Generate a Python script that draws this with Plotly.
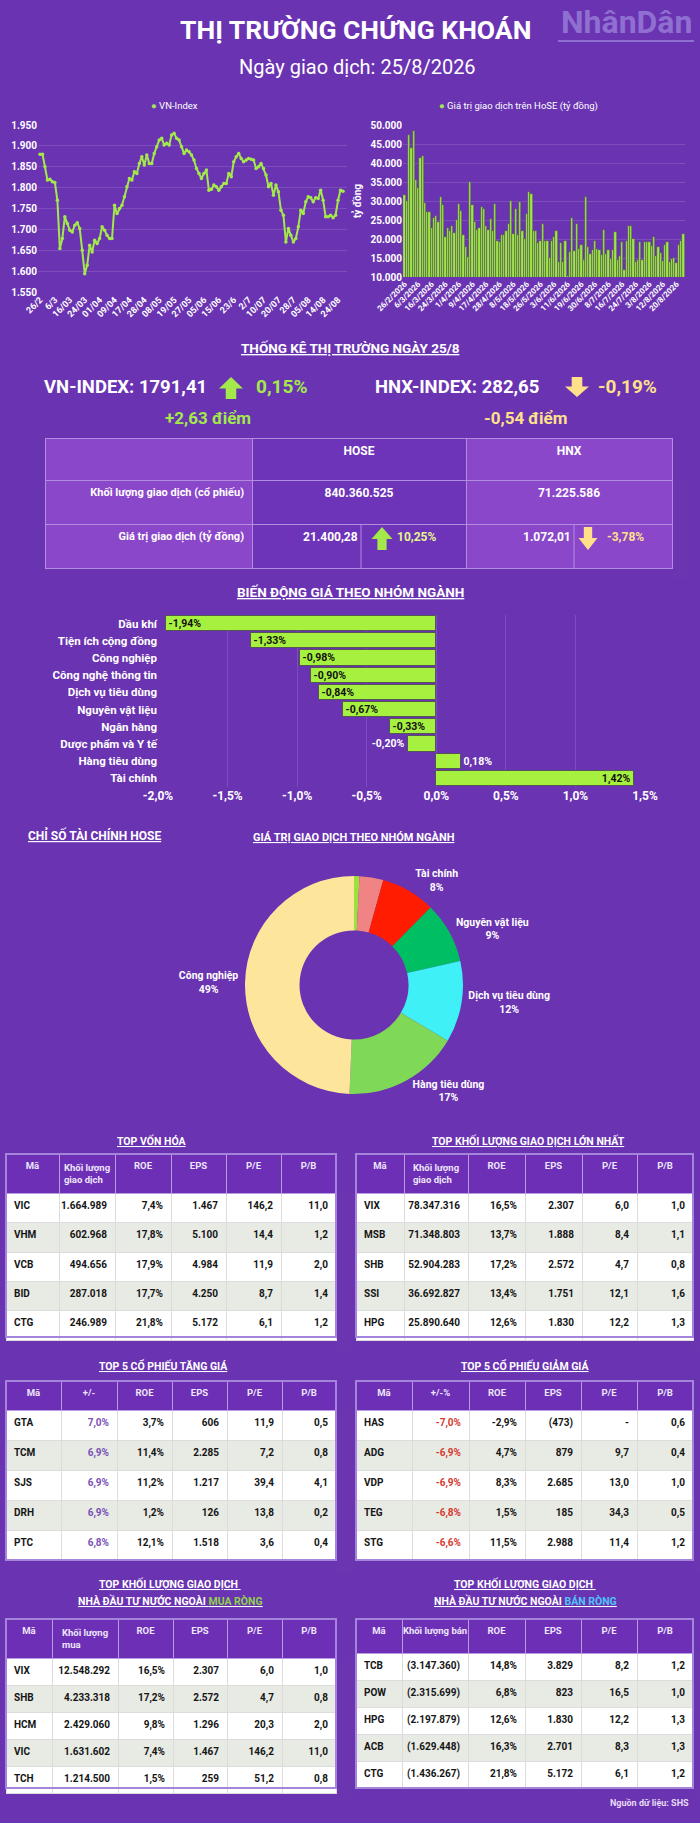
import plotly.graph_objects as go

W, H = 700, 1823
FONT = "Roboto, sans-serif"
BG = "#6a33b2"
GREEN = "#a3e94b"
LIME = "#a6f03f"
YELLOW = "#ffe08a"
NB = "\u00a0"

# --- data: VN-Index line ---
vn_index = [1880, 1880, 1850, 1818, 1820, 1814, 1812, 1770, 1654, 1678,
            1730, 1714, 1698, 1694, 1710, 1716, 1702, 1650, 1594, 1614,
            1662, 1646, 1674, 1666, 1678, 1706, 1698, 1686, 1678, 1678,
            1758, 1738, 1750, 1758, 1778, 1802, 1822, 1818, 1838, 1834,
            1858, 1874, 1854, 1878, 1858, 1858, 1882, 1898, 1914, 1918,
            1902, 1906, 1902, 1926, 1930, 1918, 1914, 1898, 1882, 1890,
            1886, 1878, 1866, 1846, 1834, 1822, 1834, 1842, 1794, 1796,
            1806, 1802, 1794, 1802, 1810, 1810, 1834, 1826, 1862, 1874,
            1882, 1870, 1862, 1866, 1870, 1868, 1866, 1846, 1850, 1858,
            1846, 1830, 1802, 1810, 1782, 1806, 1790, 1746, 1734, 1670,
            1702, 1686, 1670, 1678, 1706, 1746, 1738, 1766, 1778, 1776,
            1766, 1776, 1774, 1794, 1770, 1730, 1730, 1734, 1728, 1734,
            1770, 1794, 1791.41]
vn_ticks = ["26/2", "6/3", "16/03", "24/03", "01/04", "09/04", "17/04", "28/04",
            "08/05", "19/05", "27/05", "05/06", "15/06", "23/6", "2/7", "10/07",
            "20/07", "28/7", "05/08", "14/08", "24/08"]
vn_yticks = [1550, 1600, 1650, 1700, 1750, 1800, 1850, 1900, 1950]

# --- data: HoSE trading value ---
hose_value = [31700, 30000, 47500, 44000, 48300, 35500, 33300, 41200, 41800, 29500,
              27200, 27200, 23000, 25500, 26000, 24500, 31000, 29000, 20500, 23000,
              22000, 23500, 21500, 25000, 29200, 27500, 21000, 18000, 15200, 35000,
              29000, 24500, 22500, 23000, 28300, 28000, 23500, 22300, 25200, 22000,
              29300, 19500, 19300, 21000, 21000, 22000, 24000, 30000, 21200, 28000,
              21000, 29800, 22200, 20000, 26500, 32500, 31800, 22000, 22000, 19000,
              19500, 24000, 19500, 19500, 15000, 19500, 20500, 22000, 14000, 19000,
              14000, 19500, 10300, 16500, 25500, 16800, 24000, 17500, 18500, 14500,
              31000, 18000, 16000, 17000, 19500, 17500, 17200, 15800, 22500, 16000,
              17200, 14700, 17000, 21800, 14500, 15500, 19200, 11800, 19500, 23300,
              23400, 20000, 14000, 14500, 19200, 14500, 19200, 19200, 19200, 18200,
              20500, 15500, 17800, 16200, 14200, 18500, 19300, 14000, 14800, 15000,
              13600, 18300, 19500, 21400.28]
hose_ticks = ["26/2/2026", "6/3/2026", "16/3/2026", "24/3/2026", "1/4/2026", "9/4/2026",
              "17/4/2026", "28/4/2026", "8/5/2026", "18/5/2026", "26/5/2026", "3/6/2026",
              "11/6/2026", "19/6/2026", "30/6/2026", "8/7/2026", "16/7/2026", "24/7/2026",
              "3/8/2026", "12/8/2026", "20/8/2026"]
hose_yticks = [10000, 15000, 20000, 25000, 30000, 35000, 40000, 45000, 50000]

# --- data: sector price change ---
sectors = ["Dầu khí", "Tiện ích cộng đồng", "Công nghiệp", "Công nghệ thông tin",
           "Dịch vụ tiêu dùng", "Nguyên vật liệu", "Ngân hàng", "Dược phẩm và Y tế",
           "Hàng tiêu dùng", "Tài chính"]
sector_change = [-1.94, -1.33, -0.98, -0.90, -0.84, -0.67, -0.33, -0.20, 0.18, 1.42]
pct_ticks = [-2.0, -1.5, -1.0, -0.5, 0.0, 0.5, 1.0, 1.5]

# --- data: trading value by sector (donut) ---
pie_labels = ["Dầu khí", "Tiện ích cộng đồng", "Tài chính", "Nguyên vật liệu",
              "Dịch vụ tiêu dùng", "Hàng tiêu dùng", "Công nghiệp"]
pie_values = [0.8, 3.5, 8, 9, 12, 17, 49]
pie_colors = ["#9be33c", "#f08383", "#ff1c00", "#00bf62", "#3ff0f7", "#7fd957", "#fde69b"]

# --- data: market stats ---
stats_header = ["", "HOSE", "HNX"]
stats_labels = ["Khối lượng giao dịch (cổ phiếu)", "Giá trị giao dịch (tỷ đồng)"]
stats_volume = ["840.360.525", "71.225.586"]
stats_value = ["21.400,28", "1.072,01"]
stats_value_chg = ["10,25%", "-3,78%"]

# --- data: tables ---
head_cap = ["Mã", "Khối lượng<br>giao dịch", "ROE", "EPS", "P/E", "P/B"]
rows_cap = [["VIC", "1.664.989", "7,4%", "1.467", "146,2", "11,0"],
            ["VHM", "602.968", "17,8%", "5.100", "14,4", "1,2"],
            ["VCB", "494.656", "17,9%", "4.984", "11,9", "2,0"],
            ["BID", "287.018", "17,7%", "4.250", "8,7", "1,4"],
            ["CTG", "246.989", "21,8%", "5.172", "6,1", "1,2"]]
rows_vol = [["VIX", "78.347.316", "16,5%", "2.307", "6,0", "1,0"],
            ["MSB", "71.348.803", "13,7%", "1.888", "8,4", "1,1"],
            ["SHB", "52.904.283", "17,2%", "2.572", "4,7", "0,8"],
            ["SSI", "36.692.827", "13,4%", "1.751", "12,1", "1,6"],
            ["HPG", "25.890.640", "12,6%", "1.830", "12,2", "1,3"]]
head_up = ["Mã", "+/-", "ROE", "EPS", "P/E", "P/B"]
rows_up = [["GTA", "7,0%", "3,7%", "606", "11,9", "0,5"],
           ["TCM", "6,9%", "11,4%", "2.285", "7,2", "0,8"],
           ["SJS", "6,9%", "11,2%", "1.217", "39,4", "4,1"],
           ["DRH", "6,9%", "1,2%", "126", "13,8", "0,2"],
           ["PTC", "6,8%", "12,1%", "1.518", "3,6", "0,4"]]
head_down = ["Mã", "+/-%", "ROE", "EPS", "P/E", "P/B"]
rows_down = [["HAS", "-7,0%", "-2,9%", "(473)", "-", "0,6"],
             ["ADG", "-6,9%", "4,7%", "879", "9,7", "0,4"],
             ["VDP", "-6,9%", "8,3%", "2.685", "13,0", "1,0"],
             ["TEG", "-6,8%", "1,5%", "185", "34,3", "0,5"],
             ["STG", "-6,6%", "11,5%", "2.988", "11,4", "1,2"]]
head_buy = ["Mã", "Khối lượng<br>mua", "ROE", "EPS", "P/E", "P/B"]
rows_buy = [["VIX", "12.548.292", "16,5%", "2.307", "6,0", "1,0"],
            ["SHB", "4.233.318", "17,2%", "2.572", "4,7", "0,8"],
            ["HCM", "2.429.060", "9,8%", "1.296", "20,3", "2,0"],
            ["VIC", "1.631.602", "7,4%", "1.467", "146,2", "11,0"],
            ["TCH", "1.214.500", "1,5%", "259", "51,2", "0,8"]]
head_sell = ["Mã", "Khối lượng bán", "ROE", "EPS", "P/E", "P/B"]
rows_sell = [["TCB", "(3.147.360)", "14,8%", "3.829", "8,2", "1,2"],
             ["POW", "(2.315.699)", "6,8%", "823", "16,5", "1,0"],
             ["HPG", "(2.197.879)", "12,6%", "1.830", "12,2", "1,3"],
             ["ACB", "(1.629.448)", "16,3%", "2.701", "8,3", "1,3"],
             ["CTG", "(1.436.267)", "21,8%", "5.172", "6,1", "1,2"]]


def px(x):
    return x / W


def py(y):
    return 1 - y / H


def vn_num(v):
    return f"{v:,}".replace(",", ".")


def pct(v, nd=2):
    return f"{v:.{nd}f}%".replace(".", ",")


def nowrap(s):
    # keep words together inside table cells
    return s.replace(" ", NB)


fig = go.Figure()
annotations = []
shapes = []


def ann(text, x, y, size, color="white", xanchor="center", weight="bold"):
    annotations.append(dict(text=text, x=px(x), y=py(y), xref="paper", yref="paper",
                            xanchor=xanchor, yanchor="middle", showarrow=False,
                            font=dict(family=FONT, size=size, color=color, weight=weight)))


def u(text):
    return f"<span style='text-decoration:underline'>{text}</span>"


def arrow(cx, top, bot, w, up, color):
    hw, sw = w / 2, w * 0.22
    mid = top + (bot - top) * 0.52 if up else bot - (bot - top) * 0.52
    if up:
        pts = [(cx, top), (cx + hw, mid), (cx + sw, mid), (cx + sw, bot),
               (cx - sw, bot), (cx - sw, mid), (cx - hw, mid)]
    else:
        pts = [(cx, bot), (cx + hw, mid), (cx + sw, mid), (cx + sw, top),
               (cx - sw, top), (cx - sw, mid), (cx - hw, mid)]
    path = "M " + " L ".join(f"{px(x):.5f},{py(y):.5f}" for x, y in pts) + " Z"
    shapes.append(dict(type="path", xref="paper", yref="paper", path=path,
                       fillcolor=color, line=dict(width=0)))


# ---- header ----
ann("NhânDân", 626, 22, 32, color="#8f6fd0")
shapes.append(dict(type="line", xref="paper", yref="paper", x0=px(558), x1=px(694),
                   y0=py(41), y1=py(41), line=dict(color="#8f6fd0", width=2)))
ann("THỊ TRƯỜNG CHỨNG KHOÁN", 355, 30, 26.5)
ann("Ngày giao dịch: 25/8/2026", 357, 67, 20, weight="normal")
ann(f"<span style='color:{GREEN}'>●</span> VN-Index", 149, 106, 9.5, xanchor="left", weight="normal")
ann(f"<span style='color:{GREEN}'>●</span> Giá trị giao dịch trên HoSE (tỷ đồng)", 437, 106, 9.5,
    xanchor="left", weight="normal")

# ---- line chart ----
vn_x = list(range(len(vn_index)))
fig.add_trace(go.Scatter(x=vn_x, y=vn_index, mode="lines+markers",
                         line=dict(color=GREEN, width=2), marker=dict(size=3.5, color=GREEN),
                         xaxis="x", yaxis="y", hoverinfo="y"))

# ---- HoSE value bars ----
hose_x = list(range(len(hose_value)))
fig.add_trace(go.Bar(x=hose_x, y=hose_value, marker=dict(color="#9fe64b",
                     line=dict(color="rgba(70,70,70,0.8)", width=0.6)),
                     xaxis="x2", yaxis="y2", hoverinfo="y"))

# ---- sector bars ----
ann(u("BIẾN ĐỘNG GIÁ THEO NHÓM NGÀNH"), 350, 592, 13.5)
fig.add_trace(go.Bar(x=sector_change, y=sectors, orientation="h", width=0.88,
                     marker=dict(color=LIME, line=dict(color="#555555", width=1)),
                     text=[pct(v) for v in sector_change], textposition="auto",
                     insidetextanchor="end",
                     insidetextfont=dict(family=FONT, size=10.5, color="#111111", weight="bold"),
                     outsidetextfont=dict(family=FONT, size=10.5, color="white", weight="bold"),
                     textangle=0, cliponaxis=False, xaxis="x3", yaxis="y3", hoverinfo="x"))

# ---- donut ----
ann(u("CHỈ SỐ TÀI CHÍNH HOSE"), 26, 835, 12, xanchor="left")
ann(u("GIÁ TRỊ GIAO DỊCH THEO NHÓM NGÀNH"), 354, 837, 11)
pie_text = [f"{l}<br>{v:.0f}%" if v >= 5 else "" for l, v in zip(pie_labels, pie_values)]
fig.add_trace(go.Pie(labels=pie_labels, values=pie_values, hole=0.5, sort=False,
                     direction="clockwise", rotation=0,
                     marker=dict(colors=pie_colors, line=dict(width=0)),
                     text=pie_text, textinfo="text", textposition="outside",
                     textfont=dict(family=FONT, size=10.5, color="white", weight="bold"),
                     domain=dict(x=[px(245), px(463)], y=[py(1094), py(876)]),
                     showlegend=False, hoverinfo="label+percent"))

# ---- market stats ----
ann(u("THỐNG KÊ THỊ TRƯỜNG NGÀY 25/8"), 350, 348, 13.5)
ann("VN-INDEX: 1791,41", 42, 387, 18.5, xanchor="left")
arrow(231, 377, 399, 24, True, GREEN)
ann("0,15%", 254, 387, 19, color=GREEN, xanchor="left")
ann("+2,63 điểm", 208, 418, 17, color=GREEN)
ann("HNX-INDEX: 282,65", 373, 387, 18.5, xanchor="left")
arrow(577, 377, 397, 24, False, YELLOW)
ann("-0,19%", 596, 387, 19, color=YELLOW, xanchor="left")
ann("-0,54 điểm", 525, 418, 17, color=YELLOW)

STAT_LIGHT, STAT_DARK = "#8b47ca", "#6d33b8"
fig.add_trace(go.Table(
    domain=dict(x=[px(45), px(672)], y=[py(580), py(438)]),
    columnwidth=[207, 214, 206],
    header=dict(values=stats_header, height=42, align="center",
                fill_color=[STAT_LIGHT, STAT_DARK, STAT_LIGHT], line=dict(color="#b28ddf", width=1),
                font=dict(family=FONT, size=12, color="white", weight="bold")),
    cells=dict(values=[[nowrap(s) for s in stats_labels], [stats_volume[0], ""], [stats_volume[1], ""]],
               height=44, align=["right", "center", "center"],
               fill_color=[[STAT_LIGHT] * 2, [STAT_DARK] * 2, [STAT_LIGHT] * 2],
               line=dict(color="#b28ddf", width=1),
               font=dict(family=FONT, size=[11, 12, 12], color="white", weight="bold"))))
for xd in (361, 574):
    shapes.append(dict(type="line", xref="paper", yref="paper", x0=px(xd), x1=px(xd),
                       y0=py(524), y1=py(568), line=dict(color="#b28ddf", width=1)))
# split cells of the value row, aligned with the table's own text line
ann(stats_value[0], 330, 537, 12)
arrow(382, 527, 550, 21, True, GREEN)
ann(stats_value_chg[0], 395, 537, 12, color="#e4f38f", xanchor="left")
ann(stats_value[1], 547, 537, 12)
arrow(588, 527, 550, 19, False, YELLOW)
ann(stats_value_chg[1], 605, 537, 12, color=YELLOW, xanchor="left")


# ---- tables ----
def add_table(header, rows, bounds, y0, head_h, cell_h, col1_color=None):
    ncol = len(header)
    nrow = len(rows)
    cols = [[r[i] for r in rows] for i in range(ncol)]
    widths = [bounds[i + 1] - bounds[i] for i in range(ncol)]
    fills = [["#ffffff" if k % 2 == 0 else "#e8eae4" for k in range(nrow)] for _ in range(ncol)]
    fcol = [["#151515"] * nrow for _ in range(ncol)]
    if col1_color:
        fcol[1] = [col1_color] * nrow
    y1 = y0 + head_h + cell_h * nrow
    fig.add_trace(go.Table(
        domain=dict(x=[px(bounds[0]), px(bounds[-1])], y=[py(y1 + 14), py(y0)]),
        columnwidth=widths,
        header=dict(values=[nowrap(h) for h in header], height=head_h, align="center",
                    fill_color="#6c2fb6", line=dict(color="#b89de2", width=1),
                    font=dict(family=FONT, size=9.5, color="#eee6fb", weight="bold")),
        cells=dict(values=cols, height=cell_h, align=["left"] + ["right"] * (ncol - 1),
                   fill_color=fills, line=dict(color="#dcdcdc", width=1),
                   font=dict(family=FONT, size=10, color=fcol, weight="bold"))))
    shapes.append(dict(type="rect", xref="paper", yref="paper", x0=px(bounds[0]), x1=px(bounds[-1]),
                       y0=py(y1), y1=py(y0), line=dict(color="#a585dc", width=2)))


ann(u("TOP VỐN HÓA"), 152, 1141, 10.5)
add_table(head_cap, rows_cap, [6, 59, 115, 171, 226, 281, 336], 1154, 36, 29.4)
ann(u("TOP KHỐI LƯỢNG GIAO DỊCH LỚN NHẤT"), 528, 1141, 10.5)
add_table(head_cap, rows_vol, [356, 404, 468, 525, 582, 637, 693], 1154, 36, 29.4)
ann(u("TOP 5 CỔ PHIẾU TĂNG GIÁ"), 163, 1366, 10.5)
add_table(head_up, rows_up, [6, 61, 117, 172, 227, 282, 336], 1381, 29, 30, col1_color="#7a52b8")
ann(u("TOP 5 CỔ PHIẾU GIẢM GIÁ"), 525, 1366, 10.5)
add_table(head_down, rows_down, [356, 412, 469, 525, 581, 637, 693], 1381, 29, 30, col1_color="#d63a2f")
ann(u("TOP KHỐI LƯỢNG GIAO DỊCH "), 170, 1584, 10.5)
ann(u("NHÀ ĐẦU TƯ NƯỚC NGOÀI <span style='color:#8fd14f'>MUA RÒNG</span>"), 170, 1601, 10.5)
add_table(head_buy, rows_buy, [6, 52, 118, 173, 227, 282, 336], 1619, 34, 27)
ann(u("TOP KHỐI LƯỢNG GIAO DỊCH "), 525, 1584, 10.5)
ann(u("NHÀ ĐẦU TƯ NƯỚC NGOÀI <span style='color:#4fc3f7'>BÁN RÒNG</span>"), 525, 1601, 10.5)
add_table(head_sell, rows_sell, [356, 402, 468, 525, 581, 637, 693], 1619, 34, 27)
ann("Nguồn dữ liệu: SHS", 691, 1803, 9, color="#e6dcf5", xanchor="right")

GRID = "rgba(255,255,255,0.13)"
tick_font = dict(family=FONT, size=10, color="white", weight="bold")

fig.update_layout(
    width=W, height=H, margin=dict(l=0, r=0, t=0, b=0, autoexpand=False),
    paper_bgcolor=BG, plot_bgcolor="rgba(0,0,0,0)", showlegend=False,
    font=dict(family=FONT, color="white"),
    bargap=0, hovermode=False,
    uniformtext=dict(mode="show", minsize=10),
    annotations=annotations, shapes=shapes,
    xaxis=dict(domain=[px(38), px(347)], range=[-0.8, 123.6], anchor="y", automargin=False,
               tickvals=vn_x[::6], ticktext=vn_ticks, tickangle=-45,
               tickfont=dict(family=FONT, size=9, color="white", weight="bold"),
               showgrid=False, zeroline=False, showline=False, ticks=""),
    yaxis=dict(domain=[py(292), py(125)], range=[1550, 1950], anchor="x", automargin=False,
               tickvals=vn_yticks, ticktext=[vn_num(v) for v in vn_yticks], tickfont=tick_font,
               gridcolor=GRID, zeroline=False, showline=False, ticks=""),
    xaxis2=dict(domain=[px(403), px(685)], range=[-0.7, 123.7], anchor="y2", automargin=False,
                tickvals=hose_x[::6], ticktext=hose_ticks, tickangle=-45,
                tickfont=dict(family=FONT, size=8, color="white", weight="bold"),
                showgrid=False, zeroline=False, showline=False, ticks=""),
    yaxis2=dict(domain=[py(277), py(125)], range=[10000, 50000], anchor="x2", automargin=False,
                tickvals=hose_yticks, ticktext=[vn_num(v) for v in hose_yticks], tickfont=tick_font,
                gridcolor=GRID, zeroline=False, showline=False, ticks="",
                title=dict(text="tỷ đồng", font=dict(family=FONT, size=10, color="white", weight="bold"),
                           standoff=6)),
    xaxis3=dict(domain=[px(158), px(645)], range=[-2.0, 1.5], anchor="y3", automargin=False,
                tickvals=pct_ticks, ticktext=[pct(v, 1) for v in pct_ticks],
                tickfont=dict(family=FONT, size=12, color="white", weight="bold"),
                gridcolor=GRID, zeroline=False, showline=False, ticks=""),
    yaxis3=dict(domain=[py(787), py(615)], anchor="x3", autorange="reversed", automargin=False,
                tickfont=dict(family=FONT, size=11.5, color="white", weight="bold"),
                showgrid=False, zeroline=False, showline=False, ticks=""),
)

# page has default body margins; drop them so the 700x1823 figure fills the window exactly
fig.write_html("out.html", config={"displayModeBar": False},
               post_script="document.body.style.margin='0';"
                           "document.documentElement.style.overflow='hidden';")
